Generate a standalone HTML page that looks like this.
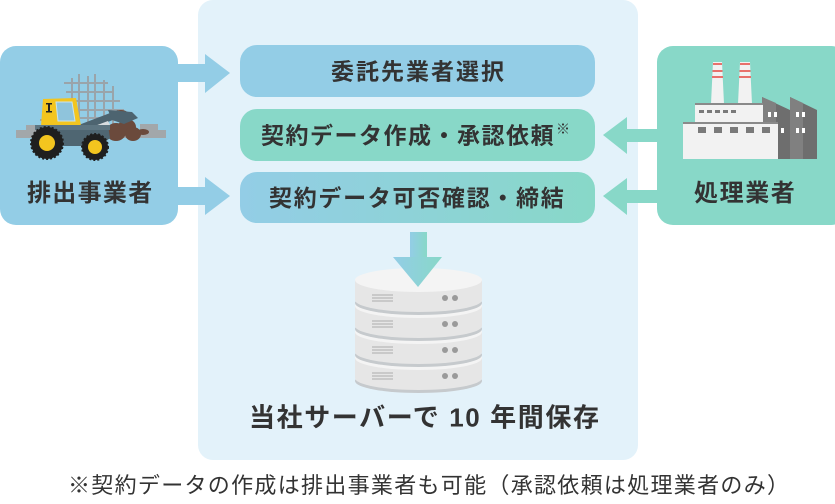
<!DOCTYPE html>
<html><head><meta charset="utf-8">
<style>
html,body{margin:0;padding:0;background:#fff;}
body{width:835px;height:504px;overflow:hidden;}
svg{display:block;}
text{font-family:"Liberation Sans","Noto Sans CJK JP",sans-serif;fill:#333;}
.b{font-weight:bold;}
</style></head>
<body>
<svg width="835" height="504" viewBox="0 0 835 504" xmlns="http://www.w3.org/2000/svg">
<defs>
<linearGradient id="g1" x1="0" y1="0" x2="1" y2="0">
<stop offset="0" stop-color="#93cde6"/><stop offset="1" stop-color="#88d8c8"/>
</linearGradient>
<g id="disk">
<ellipse cx="418.5" cy="23" rx="63.5" ry="12" fill="#c6cacd"/>
<rect x="355" y="0" width="127" height="20" fill="#e6e6e6"/>
<ellipse cx="418.5" cy="20" rx="63.5" ry="12" fill="#e6e6e6"/>
<ellipse cx="418.5" cy="0" rx="63.5" ry="12" fill="#f4f4f4"/>
<circle cx="445" cy="18" r="3" fill="#9a9a9a"/><circle cx="455" cy="18" r="3" fill="#9a9a9a"/>
<g stroke="#b8b8b8" stroke-width="1.2">
<line x1="372" y1="15" x2="393" y2="15"/><line x1="372" y1="18" x2="393" y2="18"/><line x1="372" y1="21" x2="393" y2="21"/>
</g>
</g>
</defs>
<!-- central panel -->
<rect x="198" y="0" width="440" height="460" rx="15" fill="#e3f2fa"/>

<!-- left box -->
<rect x="0" y="46" width="178" height="179" rx="16" fill="#93cde6"/>
<!-- right box -->
<rect x="657" y="46" width="190" height="179" rx="16" fill="#88d8c8"/>

<!-- left arrows -->
<rect x="176" y="64" width="31" height="18" fill="#93cde6"/>
<polygon points="205,54 230,73 205,93" fill="#93cde6"/>
<rect x="176" y="187" width="31" height="18" fill="#93cde6"/>
<polygon points="205,177 230,196 205,215" fill="#93cde6"/>
<!-- right arrows -->
<rect x="625" y="129" width="34" height="13" fill="#88d8c8"/>
<polygon points="627,117 603,135 627,154" fill="#88d8c8"/>
<rect x="625" y="190" width="34" height="13" fill="#88d8c8"/>
<polygon points="627,178 603,196 627,215" fill="#88d8c8"/>

<!-- center boxes -->
<rect x="240" y="45" width="355" height="52" rx="17" fill="#93cde6"/>
<rect x="240" y="109" width="355" height="52" rx="17" fill="#88d8c8"/>
<rect x="240" y="172" width="355" height="51" rx="17" fill="url(#g1)"/>

<text class="b" x="331" y="79.5" font-size="23" letter-spacing="2">委託先業者選択</text>
<text class="b" x="261" y="143.5" font-size="23" letter-spacing="1.5">契約データ作成・承認依頼</text>
<text class="b" x="556" y="134" font-size="14">※</text>
<text class="b" x="269" y="206" font-size="23" letter-spacing="1.7">契約データ可否確認・締結</text>

<text class="b" x="27" y="201" font-size="24" letter-spacing="1.3">排出事業者</text>
<text class="b" x="694" y="201" font-size="24" letter-spacing="1.6">処理業者</text>

<!-- bulldozer illustration -->
<g>
<rect x="16" y="130" width="150" height="8" fill="#a2a7aa"/>
<rect x="26" y="125" width="20" height="6" fill="#a2a7aa"/>
<rect x="140" y="124" width="18" height="7" fill="#a2a7aa"/>
<g stroke="#9aa4aa" stroke-width="2" fill="none">
<line x1="72" y1="78" x2="72" y2="128"/>
<line x1="79" y1="74" x2="79" y2="128"/>
<line x1="88" y1="76" x2="88" y2="128"/>
<line x1="95" y1="74" x2="95" y2="128"/>
<line x1="104" y1="80" x2="104" y2="128"/>
<line x1="113" y1="86" x2="113" y2="128"/>
<line x1="64" y1="83" x2="108" y2="83"/>
<line x1="66" y1="92" x2="114" y2="92"/>
<line x1="62" y1="101" x2="120" y2="101"/>
<line x1="64" y1="110" x2="124" y2="110"/>
<line x1="60" y1="118" x2="126" y2="118"/>
<line x1="42" y1="112" x2="60" y2="112"/>
<line x1="40" y1="120" x2="60" y2="120"/>
</g>
<polygon points="76,126 118,110 122,116 80,134" fill="#4d6470"/>
<polygon points="84,130 108,121 110,125 86,134" fill="#d8dde0"/>
<g fill="#6b4a3c">
<ellipse cx="116" cy="132" rx="10" ry="9"/>
<ellipse cx="127" cy="127" rx="9" ry="8"/>
<ellipse cx="133" cy="134" rx="8" ry="7"/>
<ellipse cx="121" cy="115" rx="8" ry="5"/>
<ellipse cx="143" cy="132" rx="6" ry="3"/>
</g>
<polygon points="108,110 132,112 138,118 124,124 112,120" fill="#4d6470"/>
<polygon points="41,126 43,99 76,98 81,126" fill="#f3c51f"/>
<polygon points="56,102 72,102 75,121 58,121" fill="#8fc4dc" stroke="#c9e4f0" stroke-width="1"/>
<rect x="48" y="103" width="2" height="9" fill="#222"/>
<rect x="46" y="103" width="6" height="1.5" fill="#222"/>
<rect x="46" y="111" width="6" height="1.5" fill="#222"/>
<polygon points="35,125 108,125 110,138 100,146 40,146" fill="#4f6672"/>
<rect x="35" y="125" width="75" height="5" fill="#5d7581"/>
<circle cx="47" cy="143" r="16" fill="#1f1f1f" stroke="#1f1f1f" stroke-width="2" stroke-dasharray="2 2"/>
<circle cx="47" cy="143" r="8" fill="#f3c51f"/>
<circle cx="95" cy="147" r="13" fill="#1f1f1f" stroke="#1f1f1f" stroke-width="2" stroke-dasharray="2 2"/>
<circle cx="95" cy="147" r="7" fill="#f3c51f"/>
</g>

<!-- factory illustration -->
<g>
<polygon points="762,159 762,97 790,110 790,97 817,110 817,159" fill="#6e6e6e"/>
<polygon points="762,159 762,97 776,103 776,159" fill="#808080"/>
<polygon points="790,159 790,97 803,103 803,159" fill="#808080"/>
<g fill="#fff">
<rect x="768" y="112" width="3" height="5"/><rect x="774" y="112" width="3" height="5"/>
<rect x="796" y="112" width="3" height="5"/><rect x="802" y="112" width="3" height="5"/>
<rect x="781" y="128" width="3" height="5"/>
<rect x="796" y="128" width="3" height="5"/><rect x="802" y="128" width="3" height="5"/>
</g>
<polygon points="711,104 713,62 722,62 724,104" fill="#f2f2f2"/>
<polygon points="738,104 740,62 750,62 752,104" fill="#f2f2f2"/>
<g fill="#e8716c">
<rect x="713" y="63" width="9" height="2"/><rect x="712.5" y="70" width="10" height="2"/><rect x="712" y="76" width="11" height="2"/>
<rect x="740" y="63" width="10" height="2"/><rect x="739.5" y="70" width="11" height="2"/><rect x="739" y="76" width="12" height="2"/>
</g>
<rect x="695" y="103" width="68" height="20" fill="#f2f2f2"/>
<rect x="695" y="103" width="68" height="2" fill="#8a8a8a"/>
<g fill="#7a7a7a">
<rect x="699" y="110" width="5" height="3"/><rect x="707" y="110" width="5" height="3"/><rect x="715" y="110" width="5" height="3"/><rect x="723" y="110" width="5" height="3"/><rect x="731" y="110" width="5" height="3"/>
</g>
<rect x="683" y="122" width="95" height="37" fill="#f2f2f2"/>
<rect x="683" y="122" width="95" height="2" fill="#8a8a8a"/>
<g fill="#7a7a7a">
<rect x="698" y="127" width="8" height="6"/><rect x="714" y="127" width="8" height="6"/><rect x="730" y="127" width="8" height="6"/><rect x="746" y="127" width="8" height="6"/><rect x="762" y="127" width="8" height="6"/>
</g>
</g>

<!-- server stack: bottom first -->
<use href="#disk" transform="translate(0,358)"/>
<use href="#disk" transform="translate(0,332)"/>
<use href="#disk" transform="translate(0,306)"/>
<use href="#disk" transform="translate(0,280)"/>

<!-- down arrow -->
<rect x="410" y="232" width="17" height="26" fill="url(#g1)"/>
<polygon points="393,257 442,257 418,287" fill="url(#g1)"/>

<text class="b" x="249" y="426.5" font-size="26" letter-spacing="1.6">当社サーバーで 10 年間保存</text>

<text x="68" y="493" font-size="22" letter-spacing="1.3">※契約データの作成は排出事業者も可能（承認依頼は処理業者のみ）</text>
</svg>
</body></html>
